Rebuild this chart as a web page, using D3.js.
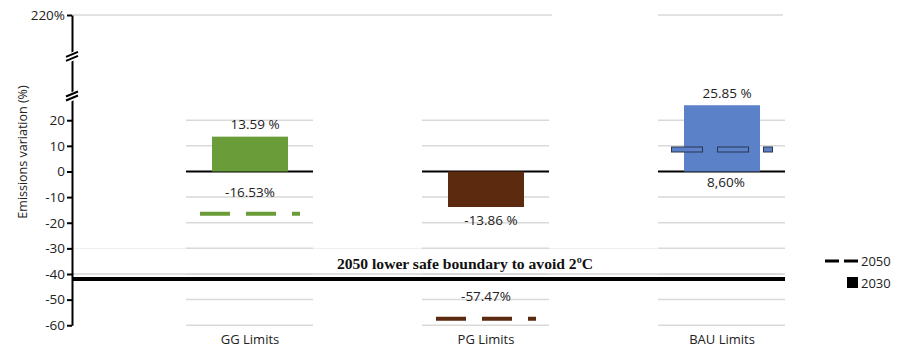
<!DOCTYPE html>
<html><head><meta charset="utf-8">
<script src="https://cdn.jsdelivr.net/npm/d3@7"></script>
<style>body{margin:0;background:#fff}svg{display:block}</style>
</head><body><svg id="chart" width="900" height="356"></svg>
<script>
const categories = ["GG Limits", "PG Limits", "BAU Limits"];
const values2030 = [13.59, -13.86, 25.85];
const values2050 = [-16.53, -57.47, 8.60];
const labels2030 = ["13.59 %", "-13.86 %", "25.85 %"];
const labels2050 = ["-16.53%", "-57.47%", "8,60%"];
const colors = ["#6a9c3a", "#5b2a0f", "#5b82c8"];
const tickValues = [220, 20, 10, 0, -10, -20, -30, -40, -50, -60];
const boundaryValue = -42;
const boundaryLabel = "2050 lower safe boundary to avoid 2ºC";
const legendItems = ["2050", "2030"];
const yTitle = "Emissions variation (%)";

const svg = d3.select("#chart");
const font = "'Open Sans', 'Noto Sans', sans-serif";
const textColor = "#222";
const axisX = 72;
const x = d3.scaleBand().domain(categories).range([132, 840]).paddingInner(0.678).paddingOuter(0.339);
const y = d3.scaleLinear().domain([-60, 30, 220]).range([325.25, 94.6, 15]);
const cx = c => x(c) + x.bandwidth() / 2;
const rightEnd = cx(categories[2]) + 61;

// gridlines
const grid = svg.append("g");
grid.append("line").attr("x1", axisX).attr("x2", cx(categories[2]) - 65)
  .attr("y1", y(-30)).attr("y2", y(-30)).attr("stroke", "#ededed").attr("stroke-width", 1);
grid.append("line").attr("x1", axisX).attr("x2", rightEnd)
  .attr("y1", y(-40)).attr("y2", y(-40)).attr("stroke", "#d6d6d6").attr("stroke-width", 1.5);
grid.append("line").attr("x1", axisX).attr("x2", cx(categories[1]) + 66)
  .attr("y1", y(220)).attr("y2", y(220)).attr("stroke", "#d9d9d9").attr("stroke-width", 1.5);
grid.append("line").attr("x1", cx(categories[2]) - 64).attr("x2", rightEnd)
  .attr("y1", y(220)).attr("y2", y(220)).attr("stroke", "#d9d9d9").attr("stroke-width", 1.5);
tickValues.filter(t => t !== 220).forEach(t => {
  categories.forEach(c => {
    grid.append("line")
      .attr("x1", cx(c) - 64).attr("x2", cx(c) + 63)
      .attr("y1", y(t)).attr("y2", y(t))
      .attr("stroke", t === 0 ? "#000" : "#d9d9d9")
      .attr("stroke-width", t === 0 ? 2 : 1.5);
  });
});

// bars 2030
svg.append("g").selectAll("rect").data(categories).join("rect")
  .attr("x", c => x(c))
  .attr("width", x.bandwidth())
  .attr("y", (c, i) => Math.min(y(values2030[i]), y(0)))
  .attr("height", (c, i) => Math.abs(y(values2030[i]) - y(0)))
  .attr("fill", (c, i) => colors[i]);

// 2050 dashed lines
const dl = svg.append("g");
categories.forEach((c, i) => {
  const v = values2050[i], b = values2030[i];
  const inside = (v > 0 && b > v) || (v < 0 && b < v);
  if (inside) {
    dl.append("line").attr("x1", cx(c) - 51).attr("x2", cx(c) + 51)
      .attr("y1", y(v)).attr("y2", y(v))
      .attr("stroke", "#2b3550").attr("stroke-width", 6)
      .attr("stroke-dasharray", "32,14");
  }
  dl.append("line").attr("x1", cx(c) - 50).attr("x2", cx(c) + 50)
    .attr("y1", y(v)).attr("y2", y(v))
    .attr("stroke", colors[i]).attr("stroke-width", 4)
    .attr("stroke-dasharray", "30,16");
});

// boundary line
svg.append("line").attr("x1", axisX).attr("x2", rightEnd + 2)
  .attr("y1", y(boundaryValue)).attr("y2", y(boundaryValue))
  .attr("stroke", "#000").attr("stroke-width", 4);
svg.append("text").attr("x", 465).attr("y", y(-40) - 5)
  .attr("text-anchor", "middle")
  .attr("font-family", "'Liberation Serif', 'Times New Roman', serif")
  .attr("font-weight", "bold").attr("font-size", 15.6).attr("fill", "#111")
  .text(boundaryLabel);

// y axis
const ax = svg.append("g").attr("transform", `translate(${axisX},0)`)
  .call(d3.axisLeft(y).tickValues(tickValues).tickSize(5).tickSizeOuter(0).tickPadding(2)
    .tickFormat(d => d === 220 ? "220%" : d));
ax.select(".domain").attr("stroke", "#000").attr("stroke-width", 2);
ax.selectAll(".tick line").attr("stroke", "#000").attr("stroke-width", 2);
ax.selectAll(".tick text").attr("font-family", font).attr("font-size", 13.5).attr("fill", textColor);

// axis breaks
const breaks = [(y(220) + y(30)) / 2 + 1.5, y(30) + 1.4];
breaks.forEach(b => {
  svg.append("polygon")
    .attr("points", `${axisX - 6},${b - 1.5} ${axisX + 6},${b - 6.5} ${axisX + 6},${b + 2.5} ${axisX - 6},${b + 7.5}`)
    .attr("fill", "#fff");
  [-2, 2].forEach(o => {
    svg.append("line")
      .attr("x1", axisX - 6).attr("y1", b + o + 2.5)
      .attr("x2", axisX + 6).attr("y2", b + o - 2.5)
      .attr("stroke", "#000").attr("stroke-width", 2);
  });
});

// y title
svg.append("text")
  .attr("transform", `translate(24,${152}) rotate(-90)`)
  .attr("text-anchor", "middle").attr("dominant-baseline", "middle")
  .attr("font-family", font).attr("font-size", 12.5).attr("fill", textColor)
  .text(yTitle);

// category labels
svg.append("g").selectAll("text").data(categories).join("text")
  .attr("x", c => cx(c)).attr("y", 339).attr("dy", "0.35em")
  .attr("text-anchor", "middle").attr("font-family", font).attr("font-size", 13).attr("fill", textColor)
  .text(c => c);

// value labels
const vl = svg.append("g").attr("font-family", font).attr("font-size", 13.5).attr("fill", textColor).attr("text-anchor", "middle");
categories.forEach((c, i) => {
  const v = values2030[i];
  vl.append("text").attr("x", cx(c) + 5)
    .attr("y", v >= 0 ? y(v) - 12 : y(v) + 13).attr("dy", "0.35em")
    .text(labels2030[i]);
  const w = values2050[i];
  vl.append("text").attr("x", cx(c) + (w >= 0 ? 4 : 0))
    .attr("y", w < 0 ? y(w) - 22 : y(0) + 11).attr("dy", "0.35em")
    .text(labels2050[i]);
});

// legend
const lg = svg.append("g").attr("font-family", font).attr("font-size", 13).attr("fill", textColor);
lg.append("line").attr("x1", 825).attr("x2", 858).attr("y1", 261).attr("y2", 261)
  .attr("stroke", "#000").attr("stroke-width", 3).attr("stroke-dasharray", "14,5");
lg.append("text").attr("x", 861).attr("y", 261).attr("dy", "0.35em").text(legendItems[0]);
lg.append("rect").attr("x", 847).attr("y", 277).attr("width", 11).attr("height", 11).attr("fill", "#000");
lg.append("text").attr("x", 861).attr("y", 283).attr("dy", "0.35em").text(legendItems[1]);
</script>
</body></html>
